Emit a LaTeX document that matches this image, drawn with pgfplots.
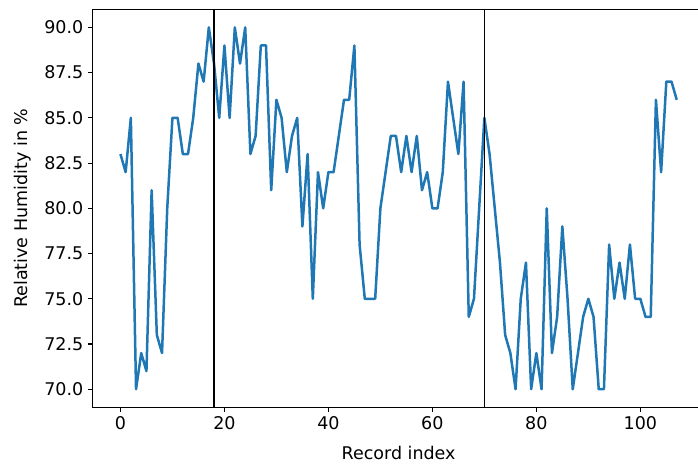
\documentclass[border=0pt]{standalone}
\usepackage{fontspec}
\setmainfont{DejaVu Sans}
\usepackage{pgfplots}
\pgfplotsset{compat=1.18}
\definecolor{mplblue}{HTML}{1F77B4}

\begin{document}
\begin{tikzpicture}
\useasboundingbox (0,0) rectangle (502.6pt,337pt);
\clip (0,0) rectangle (502.6pt,337pt);
\begin{axis}[
    at={(66.7pt,43.7pt)}, anchor=south west,
    scale only axis,
    width=440.6pt, height=286.6pt,
    xmin=-5.35, xmax=112.35,
    ymin=69, ymax=91,
    xtick={0,20,...,100},
    ytick={70,72.5,...,90},
    yticklabel style={/pgf/number format/.cd,fixed,fixed zerofill,precision=1},
    /pgf/number format/assume math mode=true,
    tick align=outside,
    xtick pos=bottom, ytick pos=left,
    major tick length=3.2pt,
    tick style={line width=0.8pt, black},
    axis line style={line width=0.8pt},
    ticklabel style={font=\fontsize{12.6}{15}\selectfont},
    label style={font=\fontsize{12.6}{15}\selectfont},
    xlabel={Record index},
    ylabel={Relative Humidity in \%},
    xlabel shift=5pt,
    ylabel shift=2.5pt,
  ]
  % humidity per record
  \addplot[mplblue, line width=1.8pt, line join=round] coordinates {
    (0,83) (1,82) (2,85) (3,70) (4,72) (5,71) (6,81) (7,73) (8,72) (9,80)
    (10,85) (11,85) (12,83) (13,83) (14,85) (15,88) (16,87) (17,90) (18,88) (19,85)
    (20,89) (21,85) (22,90) (23,88) (24,90) (25,83) (26,84) (27,89) (28,89) (29,81)
    (30,86) (31,85) (32,82) (33,84) (34,85) (35,79) (36,83) (37,75) (38,82) (39,80)
    (40,82) (41,82) (42,84) (43,86) (44,86) (45,89) (46,78) (47,75) (48,75) (49,75)
    (50,80) (51,82) (52,84) (53,84) (54,82) (55,84) (56,82) (57,84) (58,81) (59,82)
    (60,80) (61,80) (62,82) (63,87) (64,85) (65,83) (66,87) (67,74) (68,75) (69,80)
    (70,85) (71,83) (72,80) (73,77) (74,73) (75,72) (76,70) (77,75) (78,77) (79,70)
    (80,72) (81,70) (82,80) (83,72) (84,74) (85,79) (86,75) (87,70) (88,72) (89,74)
    (90,75) (91,74) (92,70) (93,70) (94,78) (95,75) (96,77) (97,75) (98,78) (99,75)
    (100,75) (101,74) (102,74) (103,86) (104,82) (105,87) (106,87) (107,86)
  };
  % segment boundaries
  \addplot[black, line width=1pt] coordinates {(18,69) (18,91)};
  \addplot[black, line width=1pt] coordinates {(70,69) (70,91)};
\end{axis}
\end{tikzpicture}
\end{document}
